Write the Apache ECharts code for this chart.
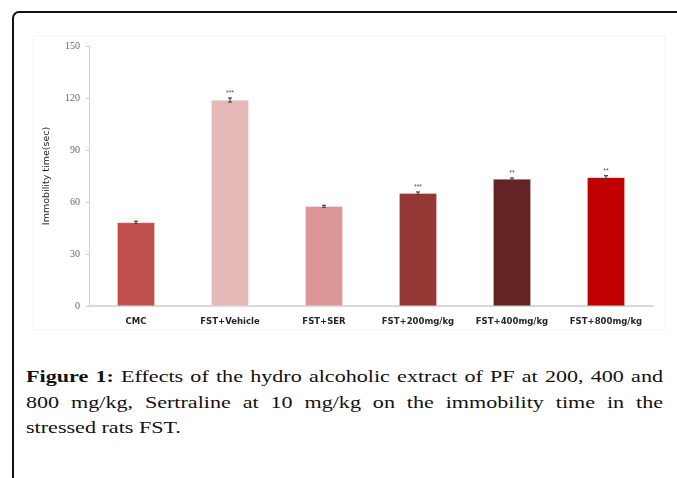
<!DOCTYPE html>
<html>
<head>
<meta charset="utf-8">
<script src="https://cdn.jsdelivr.net/npm/echarts@6/dist/echarts.min.js"></script>
<style>
html,body{margin:0;padding:0;background:#fff;}
#wrap{position:relative;width:677px;height:478px;overflow:hidden;}
#frame{position:absolute;left:12px;top:11px;width:700px;height:500px;border-left:2px solid #111;border-top:2px solid #111;border-top-left-radius:7px;}
#chart{position:absolute;left:0;top:0;width:677px;height:345px;}
#cap{position:absolute;left:26px;top:364px;width:490px;transform:scaleX(1.3);transform-origin:0 0;font-family:'Liberation Serif','DejaVu Serif',serif;font-size:17px;line-height:25.5px;color:#111;}
#cap div{text-align:justify;text-align-last:justify;white-space:normal;}
#cap div.last{text-align-last:left;}
#cap b{font-weight:bold;}
</style>
</head>
<body>
<div id="wrap">
<div id="frame"></div>
<div id="chart"></div>
<div id="cap">
<div><b>Figure 1:</b> Effects of the hydro alcoholic extract of PF at 200, 400 and</div>
<div>800 mg/kg, Sertraline at 10 mg/kg on the immobility time in the</div>
<div class="last">stressed rats FST.</div>
</div>
</div>
<script>
var categories = ['CMC', 'FST+Vehicle', 'FST+SER', 'FST+200mg/kg', 'FST+400mg/kg', 'FST+800mg/kg'];
var values = [48.2, 118.8, 57.5, 65.0, 73.2, 74.2];
var errors = [0.7, 1.2, 0.6, 0.8, 0.7, 1.0];
var stars = ['', '***', '', '***', '**', '**'];
var colors = ['#C0504D', '#E6B9B8', '#D99694', '#953735', '#632523', '#C00000'];
var yTicks = {min: 0, max: 150, interval: 30};

var chart = echarts.init(document.getElementById('chart'), null, {renderer: 'canvas'});
chart.setOption({
  animation: false,
  graphic: [{
    type: 'rect', shape: {x: 33, y: 36, width: 632, height: 294},
    style: {fill: 'none', stroke: '#f4f4f4', lineWidth: 1}, silent: true
  }],
  grid: {left: 89, right: 24, top: 46, bottom: 39},
  xAxis: {
    type: 'category', data: categories,
    axisLine: {show: true, lineStyle: {color: '#d9d9d9', width: 2}},
    axisTick: {show: false},
    axisLabel: {fontFamily: 'DejaVu Sans, sans-serif', fontSize: 8.5, fontWeight: 'bold', color: '#262626', margin: 11, interval: 0}
  },
  yAxis: {
    type: 'value', min: yTicks.min, max: yTicks.max, interval: yTicks.interval,
    name: 'Immobility time(sec)', nameLocation: 'middle', nameRotate: 90, nameGap: 37,
    nameTextStyle: {fontFamily: 'DejaVu Sans, sans-serif', fontSize: 9.5, color: '#222'},
    axisLine: {show: true, lineStyle: {color: '#d0d0d0', width: 1}},
    axisTick: {show: true, length: 3, lineStyle: {color: '#d0d0d0'}},
    splitLine: {show: false},
    axisLabel: {fontFamily: 'Liberation Serif, serif', fontSize: 10, color: '#666', margin: 9}
  },
  series: [{
    type: 'bar', barWidth: '40%',
    data: values.map(function (v, i) { return {value: v, itemStyle: {color: colors[i]}}; }),
    itemStyle: {borderColor: 'rgba(255,255,255,0.6)', borderWidth: 0.5}
  }, {
    type: 'custom',
    data: values.map(function (v, i) { return [i, v, errors[i], stars[i]]; }),
    renderItem: function (params, api) {
      var x = api.value(0), v = api.value(1), e = api.value(2), s = api.value(3);
      var top = api.coord([x, v + e]);
      var bot = api.coord([x, v - e]);
      var w = 4;
      var children = [
        {type: 'line', shape: {x1: top[0], y1: top[1], x2: bot[0], y2: bot[1]}, style: {stroke: '#444', lineWidth: 1.2}},
        {type: 'line', shape: {x1: top[0] - w / 2, y1: top[1], x2: top[0] + w / 2, y2: top[1]}, style: {stroke: '#444', lineWidth: 1.2}},
        {type: 'line', shape: {x1: bot[0] - w / 2, y1: bot[1], x2: bot[0] + w / 2, y2: bot[1]}, style: {stroke: '#444', lineWidth: 1}}
      ];
      if (s) {
        children.push({type: 'text', style: {text: s, x: top[0], y: top[1] - 1, align: 'center', verticalAlign: 'bottom', fill: '#555', font: '7px Liberation Sans, sans-serif'}});
      }
      return {type: 'group', children: children};
    },
    z: 5
  }]
});
</script>
</body>
</html>
